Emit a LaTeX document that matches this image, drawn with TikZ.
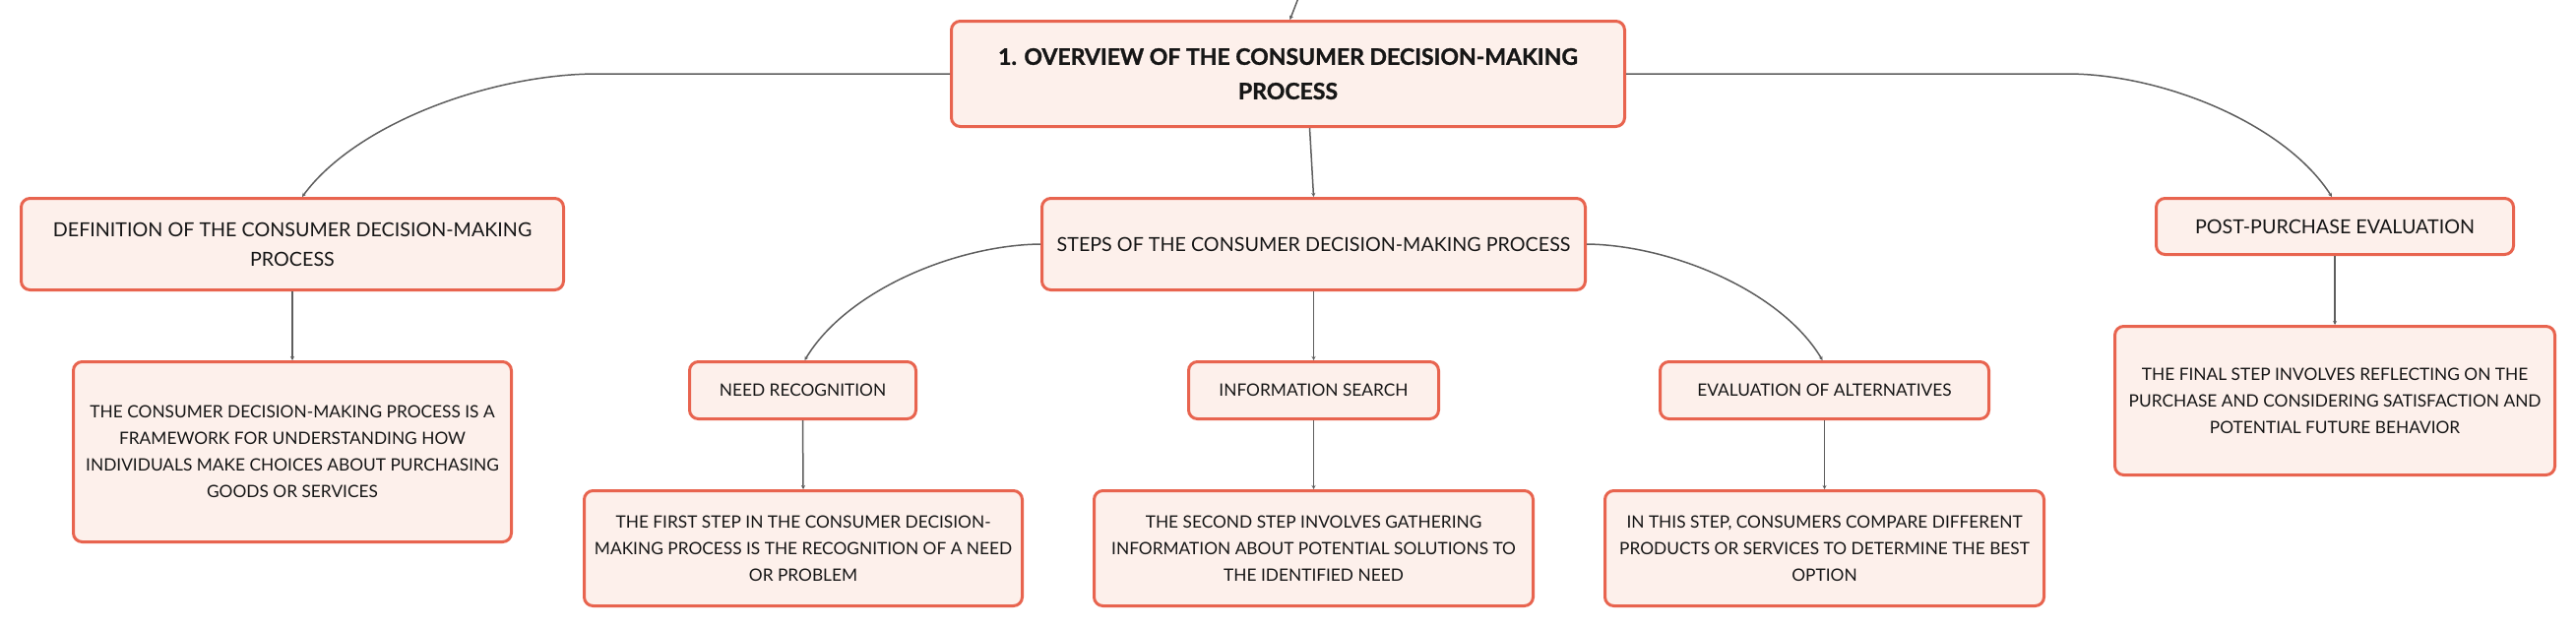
\documentclass[tikz,border=0pt]{standalone}
\usepackage{fontspec}
\setmainfont{Lato}[BoldFeatures={FakeBold=1.2}]
\usetikzlibrary{arrows.meta}
\definecolor{boxline}{HTML}{E8644F}
\definecolor{boxfill}{HTML}{FDF0EB}
\definecolor{linkgray}{HTML}{5E5E5E}
\definecolor{txt}{HTML}{161616}
\tikzset{
  mmbox/.style={draw=boxline, fill=boxfill, line width=3pt, rounded corners=9pt,
    align=center, inner sep=0pt, text=txt},
  toptext/.style={font=\fontsize{23}{35}\selectfont\bfseries},
  midtext/.style={font=\fontsize{19.7}{30}\selectfont},
  lowtext/.style={font=\fontsize{17.3}{27}\selectfont},
  link/.style={draw=linkgray, line width=1.5pt, -{Stealth[length=4pt,width=4pt]}},
}
\begin{document}
\begin{tikzpicture}[x=1pt,y=-1pt]
\useasboundingbox[fill=white] (0,0) rectangle (2617,638);

% nodes
\node[mmbox, toptext, minimum width=684, minimum height=107] (root) at (1308.5,75)
  {1. OVERVIEW OF THE CONSUMER DECISION-MAKING\\PROCESS};

\node[mmbox, midtext, minimum width=551, minimum height=93] (def) at (297,248)
  {DEFINITION OF THE CONSUMER DECISION-MAKING\\PROCESS};
\node[mmbox, midtext, minimum width=552, minimum height=93] (steps) at (1334.5,248)
  {STEPS OF THE CONSUMER DECISION-MAKING PROCESS};
\node[mmbox, midtext, minimum width=363, minimum height=57] (post) at (2372,230)
  {POST-PURCHASE EVALUATION};

\node[mmbox, lowtext, minimum width=445, minimum height=183] (defdesc) at (297,459)
  {THE CONSUMER DECISION-MAKING PROCESS IS A\\FRAMEWORK FOR UNDERSTANDING HOW\\INDIVIDUALS MAKE CHOICES ABOUT PURCHASING\\GOODS OR SERVICES};

\node[mmbox, lowtext, minimum width=230, minimum height=58] (need) at (815.5,396.5)
  {NEED RECOGNITION};
\node[mmbox, lowtext, minimum width=445, minimum height=117] (needdesc) at (816,557)
  {THE FIRST STEP IN THE CONSUMER DECISION-\\MAKING PROCESS IS THE RECOGNITION OF A NEED\\OR PROBLEM};

\node[mmbox, lowtext, minimum width=254, minimum height=58] (info) at (1334.5,396.5)
  {INFORMATION SEARCH};
\node[mmbox, lowtext, minimum width=446, minimum height=117] (infodesc) at (1334.5,557)
  {THE SECOND STEP INVOLVES GATHERING\\INFORMATION ABOUT POTENTIAL SOLUTIONS TO\\THE IDENTIFIED NEED};

\node[mmbox, lowtext, minimum width=334, minimum height=58] (eval) at (1853.5,396.5)
  {EVALUATION OF ALTERNATIVES};
\node[mmbox, lowtext, minimum width=446, minimum height=117] (evaldesc) at (1853.5,557)
  {IN THIS STEP, CONSUMERS COMPARE DIFFERENT\\PRODUCTS OR SERVICES TO DETERMINE THE BEST\\OPTION};

\node[mmbox, lowtext, minimum width=447, minimum height=151] (postdesc) at (2372,407)
  {THE FINAL STEP INVOLVES REFLECTING ON THE\\PURCHASE AND CONSIDERING SATISFACTION AND\\POTENTIAL FUTURE BEHAVIOR};

% connectors
\coordinate (parent) at (1319,-2);
\draw[link] (parent) -- ([xshift=2]root.north);

\draw[link] (root.west) -- (607,75) .. controls (500,75) and (362,125) .. ([xshift=10]def.north);
\draw[link] (root.east) -- (2100,75) .. controls (2196,75) and (2321,125) .. ([xshift=-3]post.north);
\draw[link] ([xshift=22]root.south) -- (steps.north);

\draw[link] (steps.west) .. controls (971,249) and (860,295) .. ([xshift=2]need.north);
\draw[link] (steps.south) -- (info.north);
\draw[link] (steps.east) .. controls (1697,249) and (1809,295) .. ([xshift=-2]eval.north);

\draw[link] (def.south) -- (defdesc.north);
\draw[link] (need.south) -- (needdesc.north);
\draw[link] (info.south) -- (infodesc.north);
\draw[link] (eval.south) -- (evaldesc.north);
\draw[link] (post.south) -- (postdesc.north);
\end{tikzpicture}
\end{document}
